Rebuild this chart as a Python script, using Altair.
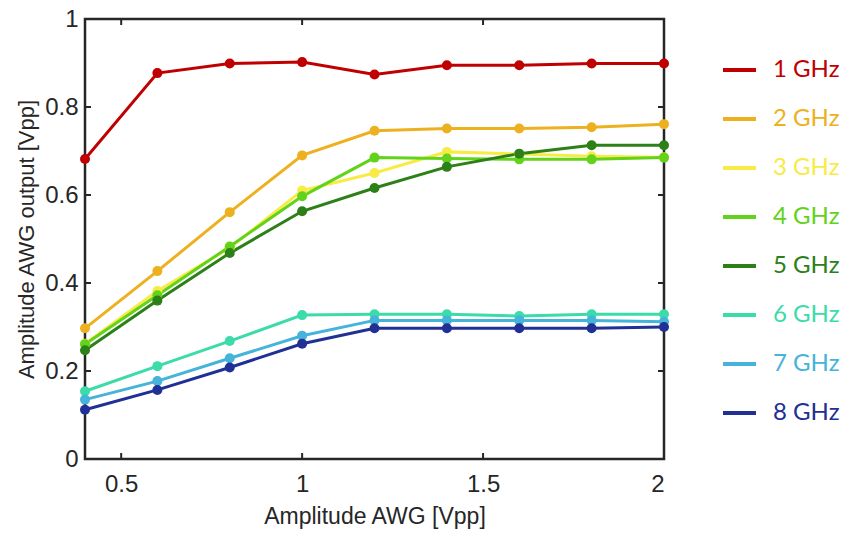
import altair as alt
import pandas as pd

amplitude = [0.4, 0.6, 0.8, 1.0, 1.2, 1.4, 1.6, 1.8, 2.0]
freqs = ["1 GHz", "2 GHz", "3 GHz", "4 GHz", "5 GHz", "6 GHz", "7 GHz", "8 GHz"]
colors = ["#C00000", "#EDB120", "#F7EB44", "#62D31A", "#2D8018", "#3BDBAA", "#45B3DA", "#203094"]

out_1ghz = [0.682, 0.877, 0.899, 0.902, 0.874, 0.895, 0.895, 0.899, 0.899]
out_2ghz = [0.297, 0.427, 0.561, 0.690, 0.746, 0.751, 0.751, 0.754, 0.761]
out_3ghz = [0.262, 0.382, 0.480, 0.610, 0.650, 0.698, 0.693, 0.688, 0.686]
out_4ghz = [0.261, 0.372, 0.483, 0.597, 0.685, 0.683, 0.681, 0.681, 0.685]
out_5ghz = [0.247, 0.360, 0.468, 0.563, 0.616, 0.664, 0.694, 0.713, 0.713]
out_6ghz = [0.154, 0.211, 0.268, 0.327, 0.329, 0.329, 0.325, 0.329, 0.329]
out_7ghz = [0.135, 0.177, 0.229, 0.280, 0.315, 0.315, 0.315, 0.315, 0.312]
out_8ghz = [0.112, 0.157, 0.208, 0.262, 0.297, 0.297, 0.297, 0.297, 0.300]

x_ticks = [0.5, 1.0, 1.5, 2.0]
y_ticks = [0, 0.2, 0.4, 0.6, 0.8, 1.0]

series = [out_1ghz, out_2ghz, out_3ghz, out_4ghz, out_5ghz, out_6ghz, out_7ghz, out_8ghz]
rows = []
for f, vals in zip(freqs, series):
    for a, v in zip(amplitude, vals):
        rows.append({"amp": a, "out": v, "freq": f})
df = pd.DataFrame(rows)
xt = pd.DataFrame({"v": x_ticks})
yt = pd.DataFrame({"v": y_ticks})
leg = pd.DataFrame({"freq": freqs})

W, H = 579, 440
AXC = "#262626"
FONT = "Liberation Sans"

xscale = alt.Scale(domain=[0.4, 2.0], nice=False, zero=False)
yscale = alt.Scale(domain=[0, 1], nice=False)
xaxis = alt.Axis(values=x_ticks, format="~g", title="Amplitude AWG [Vpp]", grid=False,
                 domain=False, ticks=False, labelPadding=13, titlePadding=9,
                 labelFont=FONT, titleFont=FONT, labelFontSize=24, titleFontSize=23,
                 labelColor=AXC, titleColor=AXC, titleFontWeight="normal")
yaxis = alt.Axis(values=y_ticks, format="~g", title="Amplitude AWG output [Vpp]", grid=False,
                 domain=False, ticks=False, labelPadding=7, titlePadding=6,
                 labelFont=FONT, titleFont=FONT, labelFontSize=24, titleFontSize=22,
                 labelColor=AXC, titleColor=AXC, titleFontWeight="normal")
cscale = alt.Scale(domain=freqs, range=colors)

base = alt.Chart(df).encode(
    x=alt.X("amp:Q", scale=xscale, axis=xaxis),
    y=alt.Y("out:Q", scale=yscale, axis=yaxis),
    color=alt.Color("freq:N", scale=cscale, legend=None),
    detail="freq:N",
)
lines = base.mark_line(strokeWidth=3)
points = base.mark_point(filled=True, size=100, opacity=1)

bt = alt.Chart(xt).mark_rule(color=AXC, strokeWidth=2).encode(
    x=alt.X("v:Q", scale=xscale, axis=xaxis), y=alt.value(H), y2=alt.value(H - 6))
tt = alt.Chart(xt).mark_rule(color=AXC, strokeWidth=2).encode(
    x=alt.X("v:Q", scale=xscale, axis=xaxis), y=alt.value(0), y2=alt.value(6))
lt = alt.Chart(yt).mark_rule(color=AXC, strokeWidth=2).encode(
    y=alt.Y("v:Q", scale=yscale, axis=yaxis), x=alt.value(0), x2=alt.value(6))
rt = alt.Chart(yt).mark_rule(color=AXC, strokeWidth=2).encode(
    y=alt.Y("v:Q", scale=yscale, axis=yaxis), x=alt.value(W), x2=alt.value(W - 6))

main = alt.layer(lines, points, bt, tt, lt, rt).properties(
    width=W, height=H,
    view=alt.ViewBackground(stroke=AXC, strokeWidth=2.5),
)

lscale = alt.Scale(domain=freqs, range=[26.5, 418.5])
legend_lines = alt.Chart(leg).mark_rule(strokeWidth=4).encode(
    y=alt.Y("freq:N", scale=lscale, axis=None),
    x=alt.value(19), x2=alt.value(52),
    color=alt.Color("freq:N", scale=cscale, legend=None),
)
legend_text = alt.Chart(leg).mark_text(align="left", baseline="middle", font="Lato", fontSize=24).encode(
    y=alt.Y("freq:N", scale=lscale, axis=None),
    x=alt.value(69),
    text="freq:N",
    color=alt.Color("freq:N", scale=cscale, legend=None),
)
legend = alt.layer(legend_lines, legend_text).properties(
    width=110, height=H,
    view=alt.ViewBackground(strokeOpacity=0),
)

chart = alt.hconcat(main, legend, spacing=32).properties(
    background="white", padding={"left": 14, "top": 5, "right": 0, "bottom": 0}
)

chart.save("out.html", embed_options={"renderer": "svg", "actions": False})
